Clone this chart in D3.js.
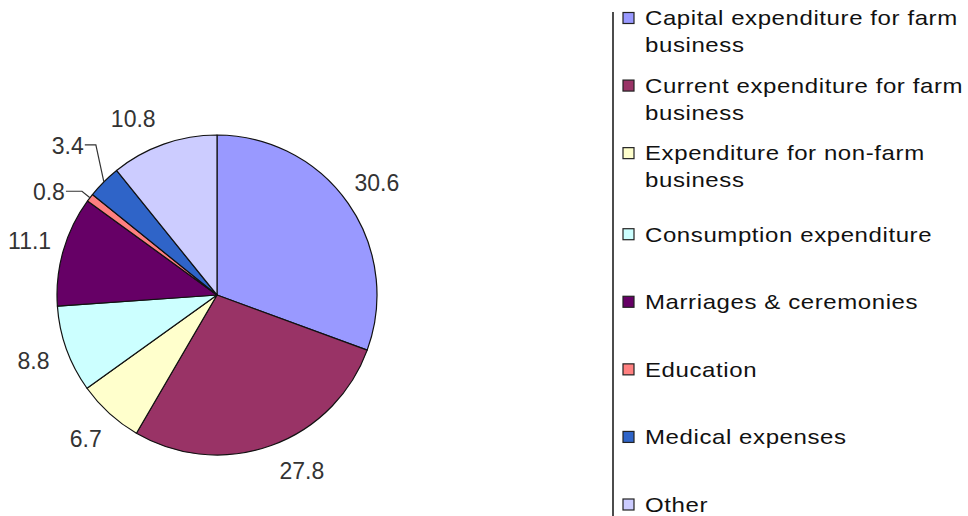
<!DOCTYPE html>
<html>
<head>
<meta charset="utf-8">
<script src="https://cdn.jsdelivr.net/npm/d3@7"></script>
<style>
    body { margin: 0; background: #fff; }
    text { font-family: "Liberation Sans", Arial, sans-serif; }
</style>
</head>
<body>
<div class="chart"></div>
<script>
// loan use by purpose (%)
var categories = [
    "Capital expenditure for farm business",
    "Current expenditure for farm business",
    "Expenditure for non-farm business",
    "Consumption expenditure",
    "Marriages & ceremonies",
    "Education",
    "Medical expenses",
    "Other"
];
var values = [30.6, 27.8, 6.7, 8.8, 11.1, 0.8, 3.4, 10.8];
var colors = ["#9999FF", "#993366", "#FFFFCC", "#CCFFFF", "#660066", "#FF8080", "#2F64C8", "#CCCCFF"];

// label nudges (degrees / radius); small slices get a leader line
var nudge = {
    "Current expenditure for farm business": { turn: -6, r: 195 },
    "Other": { turn: -6, r: 195 },
    "Education": { turn: -6, r: 197, line: true },
    "Medical expenses": { turn: 0, r: 211, line: true }
};

var width = 968,
    height = 516,
    cx = 217,
    cy = 295,
    radius = 160;

var svg = d3.select('.chart')
    .append('svg')
    .attr("width", width)
    .attr("height", height);

var data = categories.map(function (c, i) {
    return { name: c, value: values[i], color: colors[i] };
});

var pie = d3.pie()
    .sort(null)
    .value(function (d) { return d.value; });

var arc = d3.arc()
    .innerRadius(0)
    .outerRadius(radius);

var arcs = pie(data);

var g = svg.append("g")
    .attr("transform", "translate(" + cx + "," + cy + ")");

g.selectAll(".slice")
    .data(arcs)
    .enter()
    .append("path")
    .attr("class", "slice")
    .attr("d", arc)
    .style("fill", function (d) { return d.data.color; })
    .style("stroke", "#111")
    .style("stroke-width", 1.2)
    .style("stroke-linejoin", "round");

var pointAt = function (angle, r) {
    return [r * Math.sin(angle), -r * Math.cos(angle)];
};

arcs.forEach(function (d) {
    var mid = (d.startAngle + d.endAngle) / 2;
    var adj = nudge[d.data.name];
    var ang = adj ? mid + adj.turn * Math.PI / 180 : mid;
    var p = pointAt(ang, adj ? adj.r : 195);

    var t = g.append("text")
        .attr("x", p[0])
        .attr("y", p[1])
        .attr("text-anchor", "middle")
        .attr("dominant-baseline", "central")
        .style("font-size", "23px")
        .style("fill", "#333")
        .text(d.data.value.toFixed(1));

    if (adj && adj.line) {
        var w = t.node().getComputedTextLength();
        var edge = pointAt(mid, radius);
        var x0 = p[0] + w / 2 + 1;
        g.append("path")
            .attr("d", d3.line()([[x0, p[1] - 1], [edge[0] - 8, p[1] - 1], edge]))
            .style("fill", "none")
            .style("stroke", "#333")
            .style("stroke-width", 1.2);
    }
});

// legend
var lx = 613;
var ly = d3.scalePoint()
    .domain(categories)
    .range([32, 505]);

svg.append("line")
    .attr("x1", lx)
    .attr("x2", lx)
    .attr("y1", 12)
    .attr("y2", height)
    .style("stroke", "#111")
    .style("stroke-width", 1.5);

var wrap = function (s) {
    var i = s.lastIndexOf(" business");
    if (i > 0 && s.length > 24) return [s.slice(0, i), "business"];
    return [s];
};

var item = svg.selectAll(".legend")
    .data(data)
    .enter()
    .append("g")
    .attr("class", "legend");

item.each(function (d) {
    var lines = wrap(d.name);
    var step = 27;
    var y0 = ly(d.name) - (lines.length - 1) * step / 2;
    var el = d3.select(this);

    el.append("rect")
        .attr("x", lx + 10)
        .attr("y", y0 - 6)
        .attr("width", 11)
        .attr("height", 11)
        .style("fill", d.color)
        .style("stroke", "#222")
        .style("stroke-width", 1.2);

    lines.forEach(function (s, k) {
        // glyphs in the original are wide, so stretch them sideways
        el.append("text")
            .attr("transform", "translate(" + (lx + 32) + "," + (y0 + k * step) + ") scale(1.2,1)")
            .attr("dominant-baseline", "central")
            .style("font-size", "20px")
            .style("letter-spacing", "0.5px")
            .style("fill", "#111")
            .text(s);
    });
});
</script>
</body>
</html>
